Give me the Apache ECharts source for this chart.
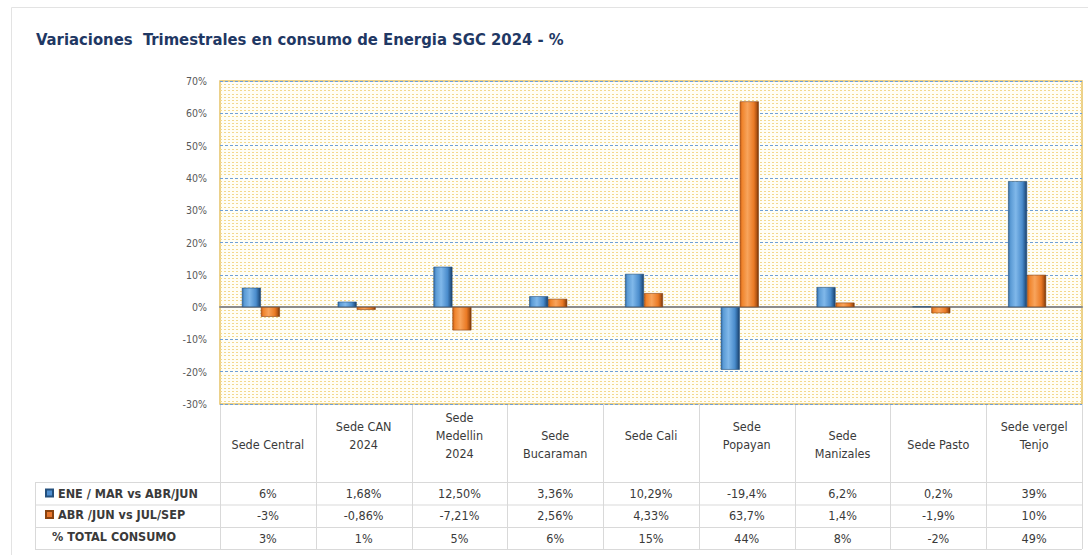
<!DOCTYPE html>
<html>
<head>
<meta charset="utf-8">
<script src="https://cdn.jsdelivr.net/npm/echarts@6/dist/echarts.min.js"></script>
<style>html,body{margin:0;padding:0;background:#fff}#c{width:1088px;height:555px}</style>
</head>
<body>
<div id="c"></div>
<script>
// ---- data ----
const titleText = 'Variaciones  Trimestrales en consumo de Energia SGC 2024 - %';
const categories = ['Sede Central', 'Sede CAN\n2024', 'Sede\nMedellin\n2024', 'Sede\nBucaraman', 'Sede Cali', 'Sede\nPopayan', 'Sede\nManizales', 'Sede Pasto', 'Sede vergel\nTenjo'];
const seriesNames = ['ENE / MAR vs ABR/JUN', 'ABR /JUN vs JUL/SEP'];
const totalRowName = '% TOTAL CONSUMO';
const eneMarVsAbrJun = [6, 1.68, 12.5, 3.36, 10.29, -19.4, 6.2, 0.2, 39];
const abrJunVsJulSep = [-3, -0.86, -7.21, 2.56, 4.33, 63.7, 1.4, -1.9, 10];
const eneMarLabels = ['6%', '1,68%', '12,50%', '3,36%', '10,29%', '-19,4%', '6,2%', '0,2%', '39%'];
const abrJunLabels = ['-3%', '-0,86%', '-7,21%', '2,56%', '4,33%', '63,7%', '1,4%', '-1,9%', '10%'];
const totalLabels = ['3%', '1%', '5%', '6%', '15%', '44%', '8%', '-2%', '49%'];
const yMin = -30, yMax = 70, yStep = 10;

// ---- layout ----
const W = 1088, H = 555;
const F = 'DejaVu Sans Condensed';
const GL = 220, GR = 1082, GT = 81, GB = 404;
const lowered = [0, 3, 6, 7]; // header labels that sit one line lower
const rowCenters = [493, 515.5, 538];
const rowLines = [482, 504.5, 527, 549];
const TXT = '#3a3a3a';

const chart = echarts.init(document.getElementById('c'), null, {renderer: 'svg'});

const blueGrad = new echarts.graphic.LinearGradient(0, 0, 1, 0, [
  {offset: 0, color: '#2f6aa8'}, {offset: 0.12, color: '#5b9bd5'}, {offset: 0.4, color: '#80b8ea'},
  {offset: 0.75, color: '#4a8ccc'}, {offset: 0.9, color: '#2b5f95'}, {offset: 1, color: '#1c3f66'}]);
const orangeGrad = new echarts.graphic.LinearGradient(0, 0, 1, 0, [
  {offset: 0, color: '#c85d17'}, {offset: 0.12, color: '#f0852d'}, {offset: 0.4, color: '#f8a45c'},
  {offset: 0.75, color: '#ea7a25'}, {offset: 0.9, color: '#b25514'}, {offset: 1, color: '#6f3309'}]);

function rowAxis(labels, center) {
  return {
    gridIndex: 0, type: 'category', data: categories, position: 'bottom',
    offset: center - GB,
    axisLine: {show: false, onZero: false}, axisTick: {show: false}, splitLine: {show: false},
    axisLabel: {interval: 0, margin: 0, verticalAlign: 'middle', fontFamily: F, fontSize: 12.5, color: TXT,
      formatter: (v, i) => labels[i]}
  };
}

// table lines
const colW = (GR - GL) / categories.length;
const lines = [];
const ls = {stroke: '#d9d9d9', lineWidth: 1};
for (let i = 0; i <= categories.length; i++) {
  const x = Math.round(GL + i * colW) + 0.5;
  lines.push({type: 'line', shape: {x1: x, y1: GB, x2: x, y2: rowLines[3]}, style: ls, silent: true});
}
rowLines.forEach(y => lines.push({type: 'line', shape: {x1: 35, y1: y + 0.5, x2: GR, y2: y + 0.5}, style: ls, silent: true}));
lines.push({type: 'line', shape: {x1: 35.5, y1: rowLines[0], x2: 35.5, y2: rowLines[3]}, style: ls, silent: true});

const option = {
  backgroundColor: '#ffffff',
  animation: false,
  title: {text: titleText, left: 31, top: 26,
    textStyle: {fontFamily: F, fontSize: 16.5, fontWeight: 'bold', color: '#1f3864'}},
  legend: {
    orient: 'vertical', left: 40, top: 481, itemWidth: 7, itemHeight: 7, itemGap: 7.5, icon: 'rect',
    selectedMode: false,
    textStyle: {fontFamily: F, fontSize: 12.5, fontWeight: 'bold', color: TXT, lineHeight: 14},
    data: [{name: seriesNames[0], itemStyle: {color: '#4f8fd0'}}, {name: seriesNames[1], itemStyle: {color: '#e8772e'}}]
  },
  grid: [
    {left: GL, right: W - GR, top: GT, bottom: H - GB, show: true, borderColor: '#e6c264', borderWidth: 1.5, backgroundColor: '#fffef6'},
    {left: GL - 7, right: W - GR + 7, top: GT, bottom: H - GB}
  ],
  xAxis: [
    {gridIndex: 0, type: 'category', data: categories, position: 'bottom',
      axisLine: {show: true, onZero: true, lineStyle: {color: '#8c8c8c', width: 2}},
      axisTick: {show: false}, axisLabel: {show: false}, splitLine: {show: false}},
    {gridIndex: 0, type: 'category', data: categories, position: 'bottom',
      axisLine: {show: false, onZero: false}, axisTick: {show: false}, splitLine: {show: false},
      axisLabel: {interval: 0, margin: 31, verticalAlign: 'middle', lineHeight: 18, fontFamily: F, fontSize: 12.5, color: TXT,
        formatter: (v, i) => (lowered.indexOf(i) >= 0 ? '\n' : '') + v}},
    rowAxis(eneMarLabels, rowCenters[0]),
    rowAxis(abrJunLabels, rowCenters[1]),
    rowAxis(totalLabels, rowCenters[2]),
    {gridIndex: 1, type: 'category', data: categories, show: false}
  ],
  yAxis: [
    {gridIndex: 0, type: 'value', min: yMin, max: yMax, interval: yStep,
      axisLine: {show: false}, axisTick: {show: false},
      axisLabel: {margin: 13, fontFamily: F, fontSize: 10.5, color: '#595959', formatter: v => v + '%'},
      splitLine: {show: true, lineStyle: {color: '#6f9fd6', type: [3, 2], width: 1}},
      minorTick: {show: false, splitNumber: 10},
      minorSplitLine: {show: true, lineStyle: {color: '#f3d88e', type: [2, 2], width: 1}}},
    {gridIndex: 1, type: 'value', min: yMin, max: yMax, interval: yStep, show: false, splitLine: {show: false}}
  ],
  series: [
    {type: 'bar', name: seriesNames[0], xAxisIndex: 5, yAxisIndex: 1, data: eneMarVsAbrJun,
      barWidth: 19, barGap: '0%', itemStyle: {color: blueGrad, borderColor: '#24507d', borderWidth: 0.6}},
    {type: 'bar', name: seriesNames[1], xAxisIndex: 5, yAxisIndex: 1, data: abrJunVsJulSep,
      barWidth: 19, barGap: '0%', itemStyle: {color: orangeGrad, borderColor: '#8a430f', borderWidth: 0.6}}
  ],
  graphic: [
    {type: 'rect', shape: {x: 11.5, y: 7.5, width: 1090, height: 560}, style: {fill: 'none', stroke: '#e3e3e3', lineWidth: 1}, silent: true, z: -10},
    ...lines,
    {type: 'text', left: 52, top: rowCenters[2] - 8,
      style: {text: totalRowName, fontFamily: F, fontSize: 12.5, fontWeight: 'bold', fill: TXT}}
  ]
};
chart.setOption(option);
</script>
</body>
</html>
